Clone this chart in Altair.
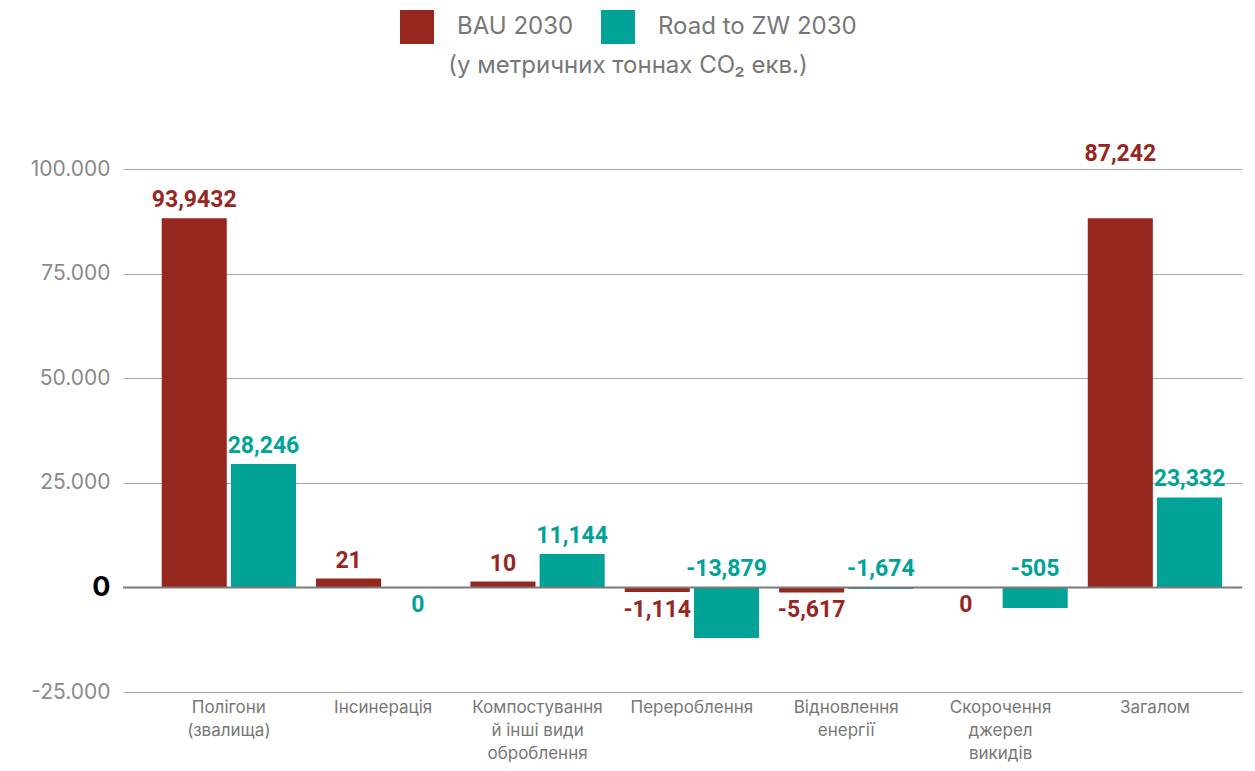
import altair as alt
import pandas as pd

categories = [
    "Полігони\n(звалища)",
    "Інсинерація",
    "Компостування\nй інші види\nоброблення",
    "Перероблення",
    "Відновлення\nенергії",
    "Скорочення\nджерел\nвикидів",
    "Загалом",
]
series_names = ["BAU 2030", "Road to ZW 2030"]
bau_values = [88200, 2100, 1400, -1100, -1200, 0, 88200]
road_values = [29500, 0, 8000, -12100, -400, -4900, 21500]
bau_labels = ["93,9432", "21", "10", "-1,114", "-5,617", "0", "87,242"]
road_labels = ["28,246", "0", "11,144", "-13,879", "-1,674", "-505", "23,332"]
subtitle = "(у метричних тоннах CO₂ екв.)"

colors = ["#96271f", "#00a396"]

rows = []
for i, c in enumerate(categories):
    for s, vals, labs in ((series_names[0], bau_values, bau_labels),
                          (series_names[1], road_values, road_labels)):
        v = vals[i]
        is_road = s == series_names[1]
        if v > 0:
            anchor, pos = v, "above"
        elif is_road and v < 0:
            anchor, pos = 0, "above"
        else:
            anchor, pos = v, "below"
        rows.append({"category": c, "series": s, "value": v,
                     "label": labs[i], "anchor": anchor, "pos": pos})
df = pd.DataFrame(rows)
# the total BAU label sits higher above its bar in the original
mask = (df["category"] == "Загалом") & (df["series"] == series_names[0])
df.loc[mask, "anchor"] = 99400

x_enc = alt.X("category:N", sort=categories,
              scale=alt.Scale(paddingInner=0.13, paddingOuter=0.19, align=0.66),
              axis=alt.Axis(title=None, labelAngle=0, domain=False, ticks=False,
                            labelExpr="split(datum.label, '\\n')",
                            labelFont="Inter", labelFontSize=17, labelColor="#777777",
                            labelLineHeight=23, labelPadding=7, labelBaseline="top"))
y_scale = alt.Scale(domain=[-25000, 100000], nice=False)
xoff = alt.XOffset("series:N", sort=series_names,
                   scale=alt.Scale(paddingInner=0.06, paddingOuter=0))
color_enc = alt.Color("series:N", sort=series_names,
                      scale=alt.Scale(domain=series_names, range=colors),
                      legend=alt.Legend(title=None, orient="none", legendX=277, legendY=-159,
                                        direction="horizontal", symbolType="square",
                                        symbolSize=1156, symbolStrokeWidth=0,
                                        labelFont="Inter", labelFontSize=24,
                                        labelColor="#777777", labelOffset=23,
                                        columnPadding=27, labelLimit=400, padding=0))

base = alt.Chart(df)

bars = base.mark_bar().encode(
    x=x_enc,
    xOffset=xoff,
    y=alt.Y("value:Q", scale=y_scale,
            axis=alt.Axis(title=None, values=[-25000, 0, 25000, 50000, 75000, 100000],
                          domain=False, ticks=False, grid=True,
                          gridColor="#a8a8a8", gridWidth=1,
                          labelExpr="datum.value == 0 ? '0' : replace(replace(format(datum.value, ','), ',', '.'), '\u2212', '-')",
                          labelFont="Inter", labelPadding=13,
                          labelFontSize={"expr": "datum.value == 0 ? 27 : 21"},
                          labelFontWeight={"expr": "datum.value == 0 ? 'bold' : 'normal'"},
                          labelColor={"expr": "datum.value == 0 ? '#000000' : '#8a8a8a'"})),
    color=color_enc,
)

zero = alt.Chart(pd.DataFrame({"z": [0]})).mark_rule(color="#7a7a7a", strokeWidth=2).encode(
    y=alt.Y("z:Q", scale=y_scale)
)

text_color = alt.Color("series:N", sort=series_names,
                       scale=alt.Scale(domain=series_names, range=colors), legend=None)

labels_above = base.transform_filter("datum.pos == 'above'").mark_text(
    font="Roboto", fontWeight="bold", fontSize=23, baseline="alphabetic", dy=-11
).encode(
    x=x_enc, xOffset=xoff,
    y=alt.Y("anchor:Q", scale=y_scale),
    text="label:N", color=text_color,
)
labels_below = base.transform_filter("datum.pos == 'below'").mark_text(
    font="Roboto", fontWeight="bold", fontSize=23, baseline="alphabetic", dy=25
).encode(
    x=x_enc, xOffset=xoff,
    y=alt.Y("anchor:Q", scale=y_scale),
    text="label:N", color=text_color,
)

sub = alt.Chart(pd.DataFrame({"t": [subtitle]})).mark_text(
    font="Inter", fontSize=24, color="#777777", baseline="middle", align="center"
).encode(x=alt.value(505), y=alt.value(-103), text="t:N")

chart = alt.layer(bars, zero, labels_above, labels_below, sub).properties(
    width=1119, height=523,
    autosize=alt.AutoSizeParams(type="none"),
    padding={"left": 115, "top": 161, "right": 4, "bottom": 70},
).configure_view(stroke=None).configure_scale(round=False)

chart.save("out.html", embed_options={"renderer": "svg", "actions": False})
